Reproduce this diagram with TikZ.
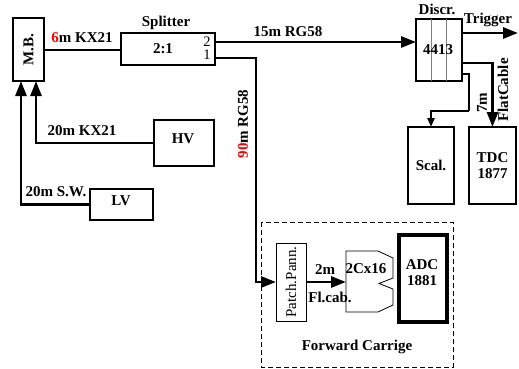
\documentclass[tikz,border=0pt]{standalone}
\usepackage{fontspec}
\setmainfont{Liberation Serif}
\usetikzlibrary{arrows.meta,calc}
\begin{document}
\begin{tikzpicture}[x=1pt,y=-1pt,
  lbl/.style={font=\fontsize{15}{16}\selectfont\bfseries, inner sep=0pt, align=center},
  reg/.style={font=\fontsize{14.5}{15}\selectfont, inner sep=0pt},
  box/.style={draw, line width=2.7pt, inner sep=0pt, outer sep=0pt, font=\fontsize{15}{16}\selectfont\bfseries, align=center},
  thinbox/.style={draw, line width=0.8pt, inner sep=0pt, outer sep=0pt},
  wire/.style={line width=2.7pt},
  arr/.style={wire, -{Triangle[length=15pt,width=11pt]}},
  sarr/.style={line width=2.2pt, -{Triangle[length=9pt,width=7pt]}},
]
\useasboundingbox (0,0) rectangle (519,369);

% boxes
\node[box, minimum width=31pt, minimum height=63pt] (mb) at (28.5,49.5) {};
\node[lbl, rotate=90] (mbt) at (28.5,49.5) {M.B.};
\node[box, minimum width=94pt, minimum height=32pt] (spl) at (168,49) {};
\node[lbl] (splt) at (163,49) {2:1};
\node[reg] (o2t) at (207,42) {2};
\node[reg] (o1t) at (207,55) {1};
\node[lbl] (splname) at (166,23) {Splitter};
\node[box, minimum width=46pt, minimum height=62pt] (dis) at (439,50) {};
\draw[gray, line width=0.8pt] (431,19) -- (431,81) (446,19) -- (446,81);
\node[lbl] (dist) at (438,50) {4413};
\node[lbl] (disname) at (437,9) {Discr.};
\node[box, minimum width=46pt, minimum height=77pt] (scal) at (431,165.5) {Scal.};
\node[box, minimum width=47pt, minimum height=77pt] (tdc) at (492.5,165.5) {TDC\\1877};
\node[box, minimum width=60pt, minimum height=46pt] (hv) at (184,143) {};
\node[lbl] (hvt) at (183,139) {HV};
\node[box, minimum width=63pt, minimum height=31pt] (lv) at (121.5,204.5) {};
\node[lbl] (lvt) at (121,201) {LV};

% forward carriage
\draw[line width=0.7pt, dash pattern=on 5pt off 3pt] (261,222) rectangle (453,367);
\node[lbl] (fct) at (357,347) {Forward Carrige};
\node[thinbox, minimum width=30pt, minimum height=78pt] (pp) at (291,282) {};
\node[reg, rotate=90, font=\fontsize{15}{16}\selectfont] (ppt) at (291,282) {Patch.Pann.};
\draw[line width=0.8pt] (346,251) -- (378,251) -- (393,258) -- (393,278) -- (379,283.5)
  -- (393,289) -- (393,305) -- (378,312) -- (346,312) -- cycle;
\coordinate (c2in) at (346,282);
\node[lbl] (c2t) at (366,269) {2Cx16};
\node[draw, line width=3.8pt, inner sep=0pt, outer sep=0pt, minimum width=48pt, minimum height=87pt] (adc) at (423,278.5) {};
\node[lbl] (adct) at (422,273) {ADC\\1881};

% coordinates
\coordinate (o2) at (215,42);
\coordinate (o1) at (215,58);
\coordinate (turn) at (256,282);
\coordinate (mbin1) at (36,81);
\coordinate (mbin2) at (21,81);
\coordinate (dtr) at (462,33);
\coordinate (trg) at (518,33);
\coordinate (dtdc) at (462,63);
\coordinate (dsc) at (462,74);
\coordinate (scbend) at (469,111);

% connectors
\draw[wire] (mb.east |- 0,50) -- (spl.west |- 0,50);
\draw[arr] (o2) -- (o2 -| dis.west);
\draw[arr] (o1) -| (turn) -- (pp.west);
\draw[arr] (hv.west) -| (mbin1);
\draw[arr] (lv.west) -| (mbin2);
\draw[arr] (dtr) -- (trg);
\draw[arr] (dtdc) -| (tdc.north);
\draw[line width=2.2pt] (dsc) -| (scbend);
\draw[sarr] (scbend) -| (scal.north);
\draw[arr] (pp.east) -- (c2in);

% labels
\node[lbl] (l6) at (82,38) {\textcolor{red}{6}m KX21};
\node[lbl] (l15) at (288,32) {15m RG58};
\node[lbl] (ltr) at (488,20) {Trigger};
\node[lbl, rotate=90] (l7) at (482,103) {7m};
\node[lbl, rotate=90] (lfc) at (503,90) {FlatCable};
\node[lbl, rotate=90] (l90) at (243,124) {\textcolor{red}{90}m RG58};
\node[lbl] (l20k) at (82,131) {20m KX21};
\node[lbl] (l20s) at (56,192) {20m S.W.};
\node[lbl] (l2m) at (325,270) {2m};
\node[lbl] (lfl) at (330,297) {Fl.cab.};
\end{tikzpicture}
\end{document}
